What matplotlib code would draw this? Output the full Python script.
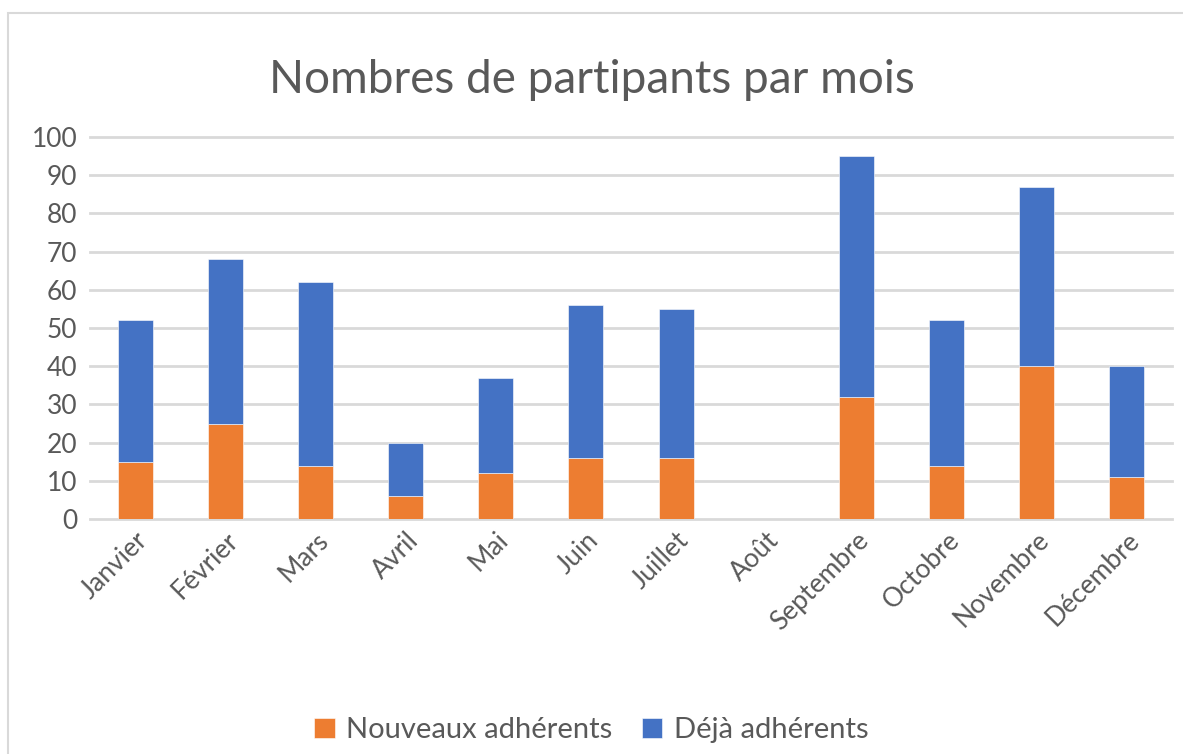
import matplotlib
matplotlib.use("Agg")
import matplotlib.pyplot as plt
from matplotlib.patches import Rectangle

months = ["Janvier", "Février", "Mars", "Avril", "Mai", "Juin", "Juillet",
          "Août", "Septembre", "Octobre", "Novembre", "Décembre"]
nouveaux = [15, 25, 14, 6, 12, 16, 16, 0, 32, 14, 40, 11]
deja = [37, 43, 48, 14, 25, 40, 39, 0, 63, 38, 47, 29]
yticks = [0, 10, 20, 30, 40, 50, 60, 70, 80, 90, 100]

orange = "#ED7D31"
blue = "#4472C4"
txt = "#595959"
font = "Lato"

W, H = 1183, 754
fig = plt.figure(figsize=(W / 100, H / 100), dpi=100)
fig.patch.set_facecolor("white")

# chart frame
fig.add_artist(Rectangle((8 / W, -0.05), 1.1, 1 - 13 / H + 0.05,
                         transform=fig.transFigure, fill=False,
                         edgecolor="#D9D9D9", linewidth=1.5))

ax = fig.add_axes([90 / W, 1 - 519 / H, (1172 - 90) / W, (519 - 137) / H])
x = list(range(len(months)))
ax.bar(x, nouveaux, width=0.39, color=orange, edgecolor="#FFFFFF",
       linewidth=0.4, label="Nouveaux adhérents", zorder=3)
ax.bar(x, deja, width=0.39, bottom=nouveaux, color=blue, edgecolor="#FFFFFF",
       linewidth=0.4, label="Déjà adhérents", zorder=3)

ax.set_xlim(-0.5, len(months) - 0.5)
ax.set_ylim(0, 100)
ax.set_yticks(yticks)
ax.set_yticklabels([str(v) for v in yticks], fontsize=19, color=txt, family=font)
ax.set_xticks(x)
ax.set_xticklabels(months, rotation=45, ha="right", rotation_mode="anchor",
                   fontsize=19, color=txt, family=font)
ax.tick_params(axis="y", length=0, pad=9)
ax.tick_params(axis="x", length=0, pad=6)
ax.grid(axis="y", color="#D9D9D9", linewidth=2, zorder=0)
for ln in ax.get_ygridlines():
    ln.set_clip_on(False)
for s in ax.spines.values():
    s.set_visible(False)

fig.text(0.5, 1 - 80 / H, "Nombres de partipants par mois", ha="center",
         va="center", fontsize=33, color=txt, family=font)

handles, labels = ax.get_legend_handles_labels()
fig.legend(handles, labels, loc="center", bbox_to_anchor=(0.5, 1 - 730 / H),
           ncol=2, frameon=False, prop={"family": font, "size": 21},
           labelcolor=txt, handlelength=0.7, handleheight=0.7,
           columnspacing=1.0, handletextpad=0.4)

fig.savefig("out.png", dpi=100, facecolor="white")
